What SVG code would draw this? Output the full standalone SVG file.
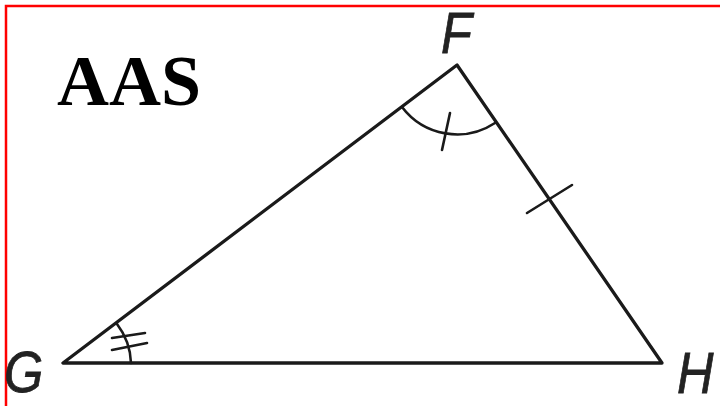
<svg xmlns="http://www.w3.org/2000/svg" width="720" height="406" viewBox="0 0 720 406">
<style>
.ln{stroke:#1a1a1a;stroke-width:3.3;fill:none;stroke-linecap:round;stroke-linejoin:round}
.mk{stroke:#1a1a1a;stroke-width:2.6;fill:none;stroke-linecap:round}
.lbl{font-family:"Liberation Sans",Arial,sans-serif;font-style:italic;font-size:58px;fill:#222;stroke:#222;stroke-width:0.8}
</style>
<rect x="0" y="0" width="720" height="406" fill="#fff"/>
<rect x="6" y="6" width="720" height="410" fill="none" stroke="#ff0000" stroke-width="2.5"/>
<text x="57" y="105" font-family="Liberation Serif,Times New Roman,serif" font-weight="bold" font-size="72" fill="#000">AAS</text>
<g id="edges">
<path class="ln" d="M457,65 L63,363 L662,363 Z"/>
</g>
<g id="marks">
<path class="mk" d="M402,107 A69,69 0 0 0 495,123"/>
<path class="mk" d="M450,113 L442,150"/>
<path class="mk" d="M527,213 L572,185"/>
<path class="mk" d="M117,324 A68,68 0 0 1 131,363"/>
<path class="mk" d="M112,338 L145,333"/>
<path class="mk" d="M112,350 L147,343"/>
</g>
<g id="F"><text class="lbl" transform="translate(441,53) scale(0.87,1)">F</text></g>
<g id="G"><text class="lbl" transform="translate(4,392) scale(0.87,1)">G</text></g>
<g id="H"><text class="lbl" transform="translate(677,393) scale(0.87,1)">H</text></g>
</svg>
